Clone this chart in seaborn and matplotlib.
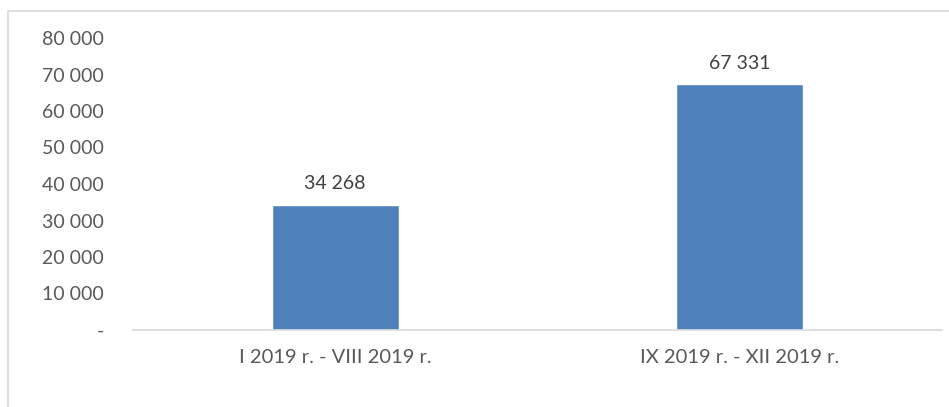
import matplotlib
matplotlib.use("Agg")
import matplotlib.pyplot as plt
import matplotlib.ticker as mticker
from matplotlib.patches import Rectangle
import seaborn as sns
import pandas as pd

periods = ["I 2019 r. - VIII 2019 r.", "IX 2019 r. - XII 2019 r."]
values = [34268, 67331]
y_ticks = [0, 10000, 20000, 30000, 40000, 50000, 60000, 70000, 80000]

sns.set_style("white")
plt.rcParams["font.family"] = ["Lato", "DejaVu Sans"]

W, H = 949, 407
fig = plt.figure(figsize=(W / 100, H / 100), dpi=100)
ax = fig.add_axes([133 / W, 1 - 330 / H, (942 - 133) / W, (330 - 38) / H])

df = pd.DataFrame({"period": periods, "value": values})
sns.barplot(data=df, x="period", y="value", color="#4F81BD", saturation=1,
            width=0.315, ax=ax)

ax.set_xlim(-0.5, 1.5)
ax.set_ylim(0, 80000)
ax.set_yticks(y_ticks)


def fmt(v, _pos=None):
    if v == 0:
        return "-"
    return f"{int(round(v)):,}".replace(",", " ")


ax.yaxis.set_major_formatter(mticker.FuncFormatter(fmt))
ax.set_xlabel("")
ax.set_ylabel("")

text_color = "#595959"
ax.tick_params(axis="y", length=0, pad=21, labelsize=14, labelcolor=text_color)
ax.tick_params(axis="x", length=0, pad=14, labelsize=14.5, labelcolor=text_color)

for s in ["top", "right", "left"]:
    ax.spines[s].set_visible(False)
ax.spines["bottom"].set_color("#d9d9d9")
ax.spines["bottom"].set_linewidth(1.2)

for i, v in enumerate(values):
    ax.annotate(fmt(v), (i, v), xytext=(0, 9), textcoords="offset points",
                ha="center", va="bottom", fontsize=14, color="#404040")

# chart frame
fig.patches.append(Rectangle((8 / W, -0.2), 1.2, 1 - 11 / H + 0.2,
                             transform=fig.transFigure, fill=False,
                             edgecolor="#d9d9d9", linewidth=1.2))

fig.savefig("out.png", dpi=100)
